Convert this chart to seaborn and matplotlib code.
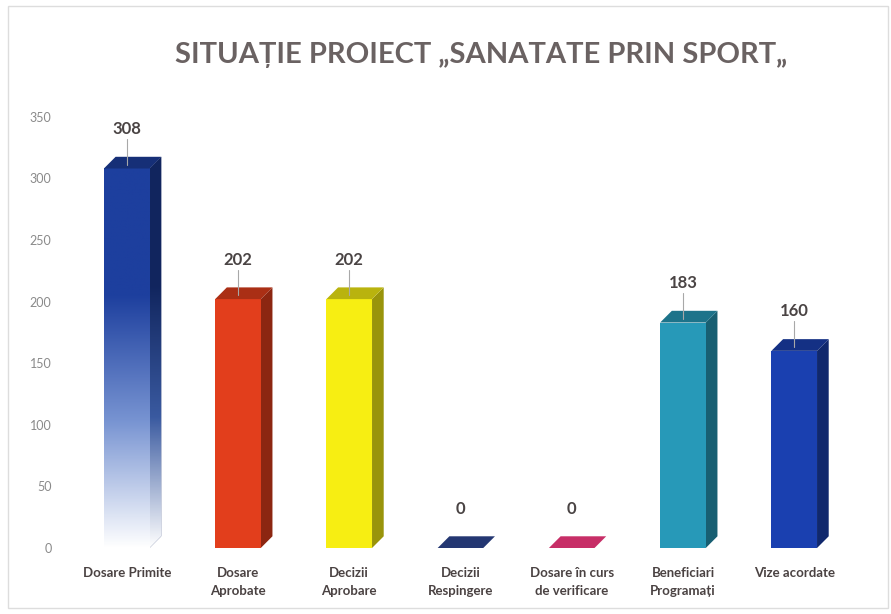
import numpy as np
import pandas as pd
import matplotlib
matplotlib.use("Agg")
import matplotlib.pyplot as plt
import seaborn as sns
from matplotlib.patches import Polygon, Rectangle
from matplotlib.colors import LinearSegmentedColormap, to_rgb

# Data
categories = ["Dosare Primite", "Dosare\nAprobate", "Decizii\nAprobare", "Decizii\nRespingere",
              "Dosare în curs\nde verificare", "Beneficiari\nProgramați", "Vize acordate"]
values = [308, 202, 202, 0, 0, 183, 160]
colors = ["#1d3f9e", "#e23e1c", "#f7ee12", "#263a78", "#d2306c", "#2799b8", "#1a40b0"]
y_ticks = [0, 50, 100, 150, 200, 250, 300, 350]

df = pd.DataFrame({"cat": categories, "val": values})

sns.set_theme(style="white")
plt.rcParams["font.family"] = ["Lato", "DejaVu Sans"]

fig = plt.figure(figsize=(8.91, 6.14), dpi=100)
ax = fig.add_axes([0.0673, 0.1075, 0.899, 0.7425])

sns.barplot(data=df, x="cat", y="val", hue="cat", palette=colors, legend=False,
            width=0.41, saturation=1, linewidth=0, ax=ax, zorder=3)

ax.set_xlim(-0.6, 6.6)
ax.set_ylim(0, 370)

def shade(c, f):
    r, g, b = to_rgb(c)
    return (r * f, g * f, b * f)

bars = list(ax.patches)
dx, dy = 0.105, 9.5
for i, (p, c) in enumerate(zip(bars, colors)):
    x0 = p.get_x()
    x1 = x0 + p.get_width()
    h = p.get_height()
    # side face
    side_poly = Polygon([(x1, 0), (x1 + dx, dy), (x1 + dx, h + dy), (x1, h)],
                        closed=True, fc=shade(c, 0.62), ec="none", zorder=2)
    ax.add_patch(side_poly)
    # top face
    ax.add_patch(Polygon([(x0, h), (x1, h), (x1 + dx, h + dy), (x0 + dx, h + dy)],
                         closed=True, fc=shade(c, 0.75 if h > 0 else 0.95), ec="none", zorder=4))
    if i == 0:
        # gradient front for first bar: blue top fading to white
        grad = np.linspace(0, 1, 256).reshape(-1, 1)
        cmap = LinearSegmentedColormap.from_list("g", ["#ffffff", "#7894d2", c, c])
        im = ax.imshow(grad, cmap=cmap, aspect="auto", origin="lower",
                       extent=[x0, x1, 0, h], zorder=3.5)
        im.set_clip_path(p)
        cmap_s = LinearSegmentedColormap.from_list(
            "s", ["#ffffff", "#3a5aa0", shade(c, 0.6), shade(c, 0.6)])
        side = ax.imshow(grad, cmap=cmap_s, aspect="auto", origin="lower",
                         extent=[x1, x1 + dx, 0, h + dy], zorder=2.5)
        side.set_clip_path(side_poly)
    # value label with leader line
    cx = x0 + p.get_width() / 2
    ax.text(cx, h + 32, str(values[i]), ha="center", va="center", fontsize=12,
            fontweight="bold", color="#4a4444", zorder=6)
    if h > 0:
        ax.plot([cx, cx], [h + 3, h + 24], color="#a8a8a8", lw=0.8, zorder=5)

ax.set_yticks(y_ticks)
ax.set_yticklabels([str(t) for t in y_ticks], fontsize=9, color="#8a8a8a")
ax.tick_params(axis="x", length=0, pad=14)
ax.tick_params(axis="y", length=0, pad=6)
for lbl in ax.get_xticklabels():
    lbl.set_fontsize(9.5)
    lbl.set_fontweight("bold")
    lbl.set_color("#4a4242")
    lbl.set_linespacing(1.6)
ax.set_xlabel("")
ax.set_ylabel("")
for s in ax.spines.values():
    s.set_visible(False)

fig.text(0.54, 0.91, "SITUAȚIE PROIECT „SANATATE PRIN SPORT„", ha="center", va="center",
         fontsize=21, fontweight="bold", color="#6a6262")

fig.patches.append(Rectangle((0.009, 0.01), 0.988, 0.98, transform=fig.transFigure,
                             fill=False, ec="#dddddd", lw=1))

fig.savefig("out.png", dpi=100)
